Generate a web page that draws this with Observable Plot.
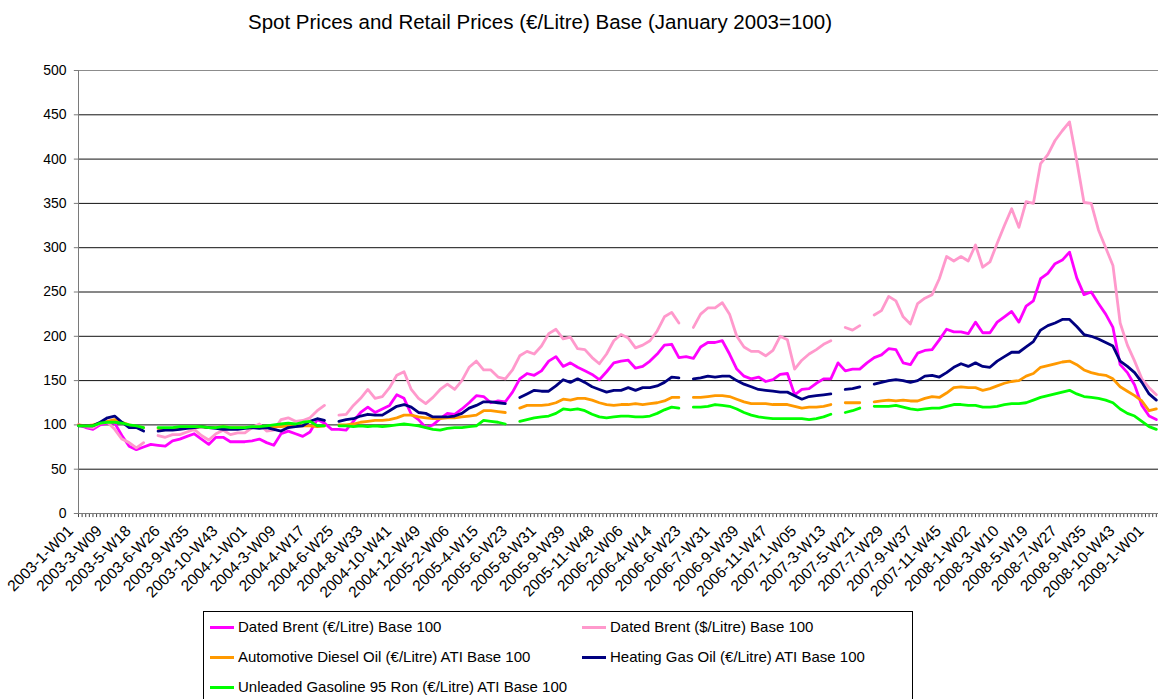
<!DOCTYPE html>
<html><head><meta charset="utf-8">
<script src="https://cdn.jsdelivr.net/npm/d3@7"></script>
<script src="https://cdn.jsdelivr.net/npm/@observablehq/plot@0.6"></script>
<style>
body{margin:0;background:#fff;font-family:"Liberation Sans",Arial,sans-serif;}
#wrap{position:relative;width:1158px;height:699px;overflow:hidden;background:#fff;}
#title{position:absolute;left:0;width:1080px;top:10px;text-align:center;font-size:20.5px;line-height:24px;color:#000;z-index:2;}
#chart{position:absolute;left:0;top:0;z-index:1;}
#legend{position:absolute;left:203px;top:611px;width:710px;height:120px;border:1px solid #000;box-sizing:border-box;z-index:2;background:#fff;}
.item{position:absolute;font-size:15px;color:#000;white-space:nowrap;line-height:16px;}
.item span.sw{position:absolute;left:0;top:7px;width:24px;height:3px;}
.item span.tx{position:absolute;left:28px;top:0;}
</style>
</head><body>
<div id="wrap">
<div id="title">Spot Prices and Retail Prices (€/Litre) Base (January 2003=100)</div>
<div id="chart"></div>
<div id="legend"></div>
</div>
<script>
const weekLabels = ["2003-1-W01","2003-3-W09","2003-5-W18","2003-6-W26","2003-9-W35","2003-10-W43","2004-1-W01","2004-3-W09","2004-4-W17","2004-6-W25","2004-8-W33","2004-10-W41","2004-12-W49","2005-2-W06","2005-4-W15","2005-6-W23","2005-8-W31","2005-9-W39","2005-11-W48","2006-2-W06","2006-4-W14","2006-6-W23","2006-7-W31","2006-9-W39","2006-11-W47","2007-1-W05","2007-3-W13","2007-5-W21","2007-7-W29","2007-9-W37","2007-11-W45","2008-1-W02","2008-3-W10","2008-5-W19","2008-7-W27","2008-9-W35","2008-10-W43","2009-1-W01"];
const yTicks = [0,50,100,150,200,250,300,350,400,450,500];

const seriesNames = ["Dated Brent (€/Litre) Base 100","Dated Brent ($/Litre) Base 100","Automotive Diesel Oil (€/Litre) ATI Base 100","Heating Gas Oil (€/Litre) ATI Base 100","Unleaded Gasoline 95 Ron (€/Litre) ATI Base 100"];
const seriesColors = ["#FF00FF","#FF99CC","#FF9900","#000080","#00FF00"];

// values every second week (category index 0, 2, 4, ... 298); null = missing week
const brentEur = [
100,97,95,100,102,102,88,76,72,75,78,77,76,82,84,87,90,84,78,86,86,81,81,81,82,84,80,77,90,93,
90,87,92,106,102,95,95,94,104,114,120,114,118,122,134,130,112,106,97,100,107,113,112,118,125,133,132,125,127,126,
137,152,158,156,161,172,177,166,170,165,161,157,151,160,170,172,173,164,166,172,180,190,191,176,177,175,188,193,193,195,
180,163,155,152,154,149,151,157,158,134,140,141,147,152,152,170,161,163,163,170,176,179,186,185,170,168,181,184,185,196,
208,205,205,203,216,204,204,216,222,228,216,234,240,265,271,282,286,295,266,247,250,237,225,210,168,159,145,122,110,106];
const brentUsd = [
100,98,97,102,103,95,84,80,74,80,null,88,86,89,89,92,95,88,83,90,94,89,91,91,97,101,93,94,106,108,
104,105,108,116,122,null,111,112,122,130,140,130,132,142,156,160,140,130,124,131,140,146,140,150,165,172,162,162,154,152,
162,178,183,180,189,203,208,197,199,186,185,176,169,180,195,202,198,187,190,195,206,222,227,215,null,210,225,232,232,238,
225,200,188,183,183,178,184,200,196,163,173,180,185,191,195,null,210,207,212,null,224,229,245,240,222,214,237,243,247,265,
290,285,290,285,303,278,284,305,325,344,323,352,350,395,405,421,432,442,398,351,350,320,300,280,215,190,172,152,142,134];
const diesel = [
100,99,100,102,104,106,103,100,98,97,null,96,96,96,97,97,97,98,97,97,98,97,97,97,97,97,98,98,98,99,
99,99,99,98,99,null,100,100,101,103,104,105,105,106,108,111,111,109,108,107,107,108,108,109,110,111,116,116,115,114,
null,119,122,122,122,123,125,129,128,130,130,128,125,123,122,123,123,124,123,124,125,127,131,131,null,131,131,132,133,133,
132,129,126,124,124,124,123,123,123,121,119,120,120,121,123,null,125,125,125,null,126,127,128,127,128,127,127,130,132,131,
136,142,143,142,142,139,141,144,147,149,150,155,158,165,167,169,171,172,168,162,159,157,156,152,143,138,133,127,116,118];
const heatingOil = [
99,99,99,103,108,110,103,97,97,93,null,93,94,94,95,96,97,98,97,96,95,95,95,96,97,96,97,95,93,97,
98,99,104,107,105,null,104,106,107,110,112,111,111,116,121,123,120,114,113,109,109,109,110,113,119,122,126,126,125,124,
null,131,135,139,138,138,144,151,148,152,148,143,140,137,139,139,142,139,142,142,144,148,154,153,null,152,153,155,154,155,
155,150,146,143,140,139,138,137,137,133,129,132,133,134,135,null,140,141,143,null,146,148,150,151,150,148,150,155,156,154,
159,165,169,166,170,166,165,172,177,182,182,188,194,207,212,215,219,219,211,202,200,197,193,189,172,166,159,148,135,128];
const gasoline = [
99,99,99,102,103,103,102,100,99,97,null,97,97,97,98,98,98,98,97,97,98,97,97,97,98,98,99,100,101,102,
101,103,104,99,99,null,99,99,98,99,98,99,98,99,100,101,100,99,97,95,94,96,97,97,98,99,105,104,103,101,
null,104,106,108,109,110,113,118,117,118,116,112,109,108,109,110,110,109,109,110,113,117,120,119,null,120,120,121,123,122,
121,118,114,111,109,108,107,107,107,107,107,106,107,109,112,null,114,116,119,null,121,121,121,122,120,118,117,118,119,119,
121,123,123,122,122,120,120,121,123,124,124,125,128,131,133,135,137,139,135,132,131,130,128,125,118,113,110,104,98,95];

const allSeries = [brentEur, brentUsd, diesel, heatingOil, gasoline];
const tables = allSeries.map(vals => vals.map((v, i) => ({x: i * 2, y: v})));
const labelTable = weekLabels.map((t, i) => ({x: i * 8, t}));
const minorTicks = d3.range(0, 299);

const chart = Plot.plot({
  width: 1158, height: 605,
  marginLeft: 78, marginRight: 0, marginTop: 70, marginBottom: 92,
  x: {domain: [0, 298.6], axis: null},
  y: {domain: [0, 500], axis: null},
  style: {fontFamily: "'Liberation Sans', Arial, sans-serif", background: "#fff", color: "#000", overflow: "visible"},
  marks: [
    Plot.ruleY(yTicks.filter(v => v > 0 && v < 500), {stroke: "#111", strokeWidth: 1}),
    Plot.ruleY([500], {stroke: "#8c8c8c", strokeWidth: 1}),
    Plot.ruleX(minorTicks, {x: d => d, y1: 0, y2: -4.6, stroke: "#444", strokeWidth: 1}),
    Plot.ruleY([0], {stroke: "#7a7a7a", strokeWidth: 1}),
    Plot.ruleX([0], {y1: 0, y2: 500, stroke: "#7a7a7a", strokeWidth: 1}),
    Plot.ruleY(yTicks, {y: d => d, x1: -1.15, x2: 0, stroke: "#7a7a7a"}),
    Plot.text(yTicks, {x: 0, y: d => d, text: d => String(d), textAnchor: "end", dx: -12, fontSize: 14, fill: "#000"}),
    Plot.text(labelTable, {x: "x", y: 0, text: "t", rotate: -45, textAnchor: "end", dx: -8, dy: 15, fontSize: 15.5, fill: "#000"}),
    ...tables.map((t, k) => Plot.line(t, {x: "x", y: "y", stroke: seriesColors[k], strokeWidth: 2.8, strokeLinejoin: "round"}))
  ]
});
document.getElementById("chart").appendChild(chart);

// legend
const legendPos = [[6, 7], [378, 7], [6, 37], [378, 37], [6, 67]];
const leg = document.getElementById("legend");
seriesNames.forEach((n, k) => {
  const d = document.createElement("div");
  d.className = "item";
  d.style.left = legendPos[k][0] + "px";
  d.style.top = legendPos[k][1] + "px";
  d.innerHTML = `<span class="sw" style="background:${seriesColors[k]}"></span><span class="tx">${n}</span>`;
  leg.appendChild(d);
});
</script>
</body></html>
